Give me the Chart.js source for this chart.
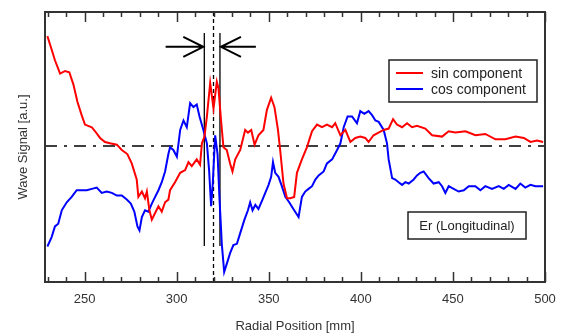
<!DOCTYPE html>
<html>
<head>
<meta charset="utf-8">
<script src="https://cdn.jsdelivr.net/npm/chart.js@4.4.0/dist/chart.umd.min.js"></script>
<style>
  html, body { margin: 0; padding: 0; background: #fff; }
</style>
</head>
<body>
<canvas id="chart" width="562" height="336"></canvas>
<script>
// radial position [mm] and signal [a.u.]
const sinR = [229.8, 232.1, 233.9, 236.7, 239.4, 241.7, 243.9, 246.1, 248.4, 250.2, 253.9, 255.7, 258.4, 261.1, 263.8, 267.5, 270.2, 273.2, 275.6, 278.3, 279.2, 281.1, 282.8, 283.8, 285.2, 286.5, 288.3, 290.1, 291.9, 293.7, 295.5, 296.4, 299.1, 301.9, 304.6, 306.4, 308.2, 310.9, 312.7, 313.7, 315.1, 316.4, 318.2, 320.0, 321.8, 322.7, 324.1, 325.4, 327.2, 329.0, 330.3, 331.8, 334.5, 337.2, 338.7, 340.5, 342.3, 344.4, 347.1, 349.0, 351.3, 353.1, 355.0, 356.2, 358.0, 359.9, 361.7, 363.8, 365.3, 368.0, 370.7, 373.5, 376.2, 378.9, 381.6, 384.4, 386.1, 388.9, 391.6, 394.3, 397.0, 399.7, 402.4, 404.2, 406.9, 409.6, 412.4, 415.1, 417.5, 419.6, 422.4, 425.1, 427.8, 430.5, 435.0, 438.7, 444.1, 447.7, 451.3, 456.8, 462.2, 467.6, 473.1, 478.5, 484.0, 488.5, 492.1, 495.7, 499.0];
const sinV = [0.82, 0.72, 0.64, 0.54, 0.56, 0.55, 0.46, 0.33, 0.23, 0.16, 0.14, 0.11, 0.06, 0.03, 0.02, 0.01, -0.03, -0.06, -0.13, -0.25, -0.38, -0.34, -0.39, -0.34, -0.48, -0.55, -0.50, -0.45, -0.49, -0.42, -0.40, -0.33, -0.27, -0.20, -0.18, -0.12, -0.15, -0.10, -0.14, 0.02, 0.07, 0.22, 0.47, 0.28, 0.48, 0.43, 0.19, -0.01, -0.03, -0.13, -0.19, -0.10, -0.03, 0.12, 0.10, 0.12, 0.01, 0.08, 0.12, 0.27, 0.36, 0.29, 0.12, -0.03, -0.28, -0.39, -0.39, -0.38, -0.20, -0.10, -0.01, 0.11, 0.16, 0.14, 0.16, 0.14, 0.17, 0.08, 0.12, 0.03, 0.06, 0.07, 0.06, 0.03, 0.08, 0.10, 0.12, 0.13, 0.20, 0.16, 0.14, 0.17, 0.14, 0.15, 0.13, 0.08, 0.07, 0.11, 0.10, 0.11, 0.08, 0.09, 0.05, 0.05, 0.07, 0.06, 0.03, 0.04, 0.03];

const cosR = [229.8, 232.1, 233.9, 235.7, 237.6, 240.3, 243.0, 245.7, 248.4, 251.2, 253.9, 256.6, 259.3, 262.0, 264.8, 267.5, 270.2, 272.9, 275.1, 277.0, 278.7, 279.8, 281.1, 282.8, 284.6, 286.5, 288.3, 290.1, 291.9, 293.7, 295.5, 296.4, 298.2, 300.1, 301.9, 303.7, 305.5, 307.3, 309.1, 310.9, 312.4, 314.5, 316.4, 317.6, 318.7, 319.6, 320.9, 322.2, 323.2, 324.5, 325.8, 327.2, 329.0, 330.8, 332.7, 334.5, 336.8, 338.7, 339.9, 341.2, 342.7, 344.4, 346.6, 348.1, 349.9, 351.3, 352.3, 353.5, 355.3, 357.1, 359.0, 361.1, 363.8, 366.2, 368.0, 369.8, 371.6, 373.5, 375.3, 377.1, 379.8, 381.6, 384.4, 387.1, 388.9, 390.7, 392.8, 395.2, 397.9, 399.7, 401.9, 404.2, 406.1, 407.9, 409.7, 412.4, 414.2, 415.1, 417.0, 418.7, 420.5, 422.4, 424.2, 426.0, 428.7, 430.5, 432.3, 434.1, 436.8, 439.5, 442.3, 444.1, 445.9, 447.7, 450.4, 453.1, 455.9, 458.6, 462.2, 464.9, 467.6, 471.2, 474.9, 477.6, 480.3, 484.0, 486.6, 489.3, 492.1, 494.8, 499.0];
const cosV = [-0.75, -0.68, -0.60, -0.58, -0.48, -0.42, -0.38, -0.33, -0.33, -0.33, -0.32, -0.31, -0.35, -0.34, -0.35, -0.37, -0.37, -0.40, -0.43, -0.49, -0.60, -0.63, -0.53, -0.48, -0.49, -0.43, -0.38, -0.33, -0.27, -0.19, -0.06, -0.01, -0.03, -0.08, 0.12, 0.19, 0.14, 0.32, 0.29, 0.31, 0.22, 0.12, 0.02, -0.18, -0.45, -0.28, 0.08, -0.06, -0.38, -0.73, -0.94, -0.88, -0.80, -0.74, -0.73, -0.65, -0.55, -0.48, -0.42, -0.48, -0.44, -0.47, -0.40, -0.35, -0.29, -0.23, -0.12, -0.20, -0.23, -0.30, -0.38, -0.42, -0.48, -0.53, -0.38, -0.34, -0.32, -0.30, -0.25, -0.22, -0.19, -0.13, -0.10, -0.03, 0.02, 0.14, 0.22, 0.22, 0.17, 0.26, 0.24, 0.26, 0.23, 0.19, 0.18, 0.12, 0.02, -0.10, -0.24, -0.25, -0.27, -0.29, -0.27, -0.28, -0.25, -0.22, -0.20, -0.19, -0.24, -0.28, -0.27, -0.30, -0.35, -0.30, -0.32, -0.34, -0.33, -0.30, -0.30, -0.33, -0.30, -0.32, -0.30, -0.32, -0.29, -0.32, -0.28, -0.31, -0.29, -0.30, -0.30];

const xLabels = [250, 300, 350, 400, 450, 500];
const solidMarks = [315, 323.5];   // the two solid vertical lines
const dashedMark = 320;            // dotted centre line
const arrowTails = [294, 343];     // where the arrows start
const arrowLevel = 0.74;

const X_MIN = 228.5, X_MAX = 500, Y_MIN = -1.015, Y_MAX = 1;
const FONT = '"Liberation Sans", Arial, sans-serif';

const zip = (xs, ys) => xs.map((x, i) => ({ x, y: ys[i] }));

const markerSets = solidMarks.map(m => ({
  data: [{ x: m, y: 0.843 }, { x: m, y: -0.746 }],
  borderColor: '#000', borderWidth: 1.3, pointRadius: 0
}));

const overlay = {
  id: 'overlay',
  afterDatasetsDraw(chart) {
    const { ctx, chartArea: a, scales: { x, y } } = chart;
    ctx.save();
    // ticks inside, bottom and top
    ctx.strokeStyle = '#333';
    ctx.lineWidth = 1.5;
    for (let v = 230; v <= 500; v += 10) {
      const px = Math.round(x.getPixelForValue(v)) + 0.5;
      const len = v % 50 === 0 ? 10 : 5;
      ctx.beginPath();
      ctx.moveTo(px, a.bottom); ctx.lineTo(px, a.bottom - len);
      ctx.moveTo(px, a.top); ctx.lineTo(px, a.top + len);
      ctx.stroke();
    }
    // frame
    ctx.lineWidth = 2;
    ctx.strokeStyle = '#333';
    ctx.strokeRect(a.left, a.top, a.right - a.left, a.bottom - a.top);

    // arrows pointing at the marker pair
    ctx.strokeStyle = '#000';
    ctx.lineWidth = 2;
    const ay = y.getPixelForValue(arrowLevel);
    arrowTails.forEach((t, i) => {
      const tip = x.getPixelForValue(solidMarks[i]) + (i === 0 ? -1 : 1);
      const tail = x.getPixelForValue(t);
      const dir = Math.sign(tip - tail);
      ctx.beginPath();
      ctx.moveTo(tail, ay); ctx.lineTo(tip, ay);
      ctx.moveTo(tip - dir * 20, ay - 10); ctx.lineTo(tip, ay); ctx.lineTo(tip - dir * 20, ay + 10);
      ctx.stroke();
    });

    // legend box
    const lx = a.right - 156, ly = a.top + 48;
    ctx.fillStyle = '#fff';
    ctx.fillRect(lx, ly, 148, 42);
    ctx.lineWidth = 1.5;
    ctx.strokeStyle = '#222';
    ctx.strokeRect(lx, ly, 148, 42);
    ctx.font = '14px ' + FONT;
    ctx.textBaseline = 'middle';
    ctx.textAlign = 'left';
    chart.data.datasets.slice(0, 2).forEach((ds, i) => {
      const yy = ly + 13 + i * 16;
      ctx.strokeStyle = ds.borderColor;
      ctx.lineWidth = 2;
      ctx.beginPath(); ctx.moveTo(lx + 7, yy); ctx.lineTo(lx + 34, yy); ctx.stroke();
      ctx.fillStyle = '#222';
      ctx.fillText(ds.label, lx + 42, yy + 1);
    });

    // field label
    const ex = a.right - 137, ey = a.top + 200;
    ctx.strokeStyle = '#222';
    ctx.lineWidth = 1.5;
    ctx.strokeRect(ex, ey, 118, 27);
    ctx.fillStyle = '#222';
    ctx.textAlign = 'center';
    ctx.font = '13px ' + FONT;
    ctx.fillText('Er (Longitudinal)', ex + 59, ey + 14);
    ctx.restore();
  }
};

new Chart(document.getElementById('chart'), {
  type: 'line',
  data: {
    datasets: [
      { label: 'sin component', data: zip(sinR, sinV), borderColor: '#ff0000', borderWidth: 2, pointRadius: 0, tension: 0 },
      { label: 'cos component', data: zip(cosR, cosV), borderColor: '#0000ff', borderWidth: 2, pointRadius: 0, tension: 0 },
      { data: [{ x: X_MIN, y: 0 }, { x: X_MAX, y: 0 }], borderColor: '#000', borderWidth: 1.5, borderDash: [12, 7, 3, 7], pointRadius: 0 },
      { data: [{ x: dashedMark, y: Y_MAX }, { x: dashedMark, y: Y_MIN }], borderColor: '#000', borderWidth: 1.3, borderDash: [4, 3], pointRadius: 0 },
      ...markerSets
    ]
  },
  options: {
    responsive: false,
    animation: false,
    devicePixelRatio: 1,
    layout: { padding: { top: 12, right: 17, left: 0, bottom: 0 } },
    plugins: { legend: { display: false }, tooltip: { enabled: false } },
    scales: {
      x: {
        type: 'linear', min: X_MIN, max: X_MAX,
        afterBuildTicks: s => { s.ticks = xLabels.map(v => ({ value: v })); },
        afterFit: s => { s.height = 54; s.paddingLeft = 0; s.paddingRight = 0; },
        grid: { display: false, drawTicks: false },
        border: { display: false },
        ticks: { color: '#333', font: { family: FONT, size: 13 }, padding: 10, maxRotation: 0 },
        title: { display: true, text: 'Radial Position [mm]', color: '#333', font: { family: FONT, size: 13 }, padding: { top: 3, bottom: 2 } }
      },
      y: {
        min: Y_MIN, max: Y_MAX,
        afterFit: s => { s.width = 45; s.paddingTop = 0; s.paddingBottom = 0; },
        grid: { display: false, drawTicks: false },
        border: { display: false },
        ticks: { display: false },
        title: { display: true, text: 'Wave Signal [a.u.]', color: '#333', font: { family: FONT, size: 13 }, padding: { top: 16, bottom: 14 } }
      }
    }
  },
  plugins: [overlay]
});
</script>
</body>
</html>
